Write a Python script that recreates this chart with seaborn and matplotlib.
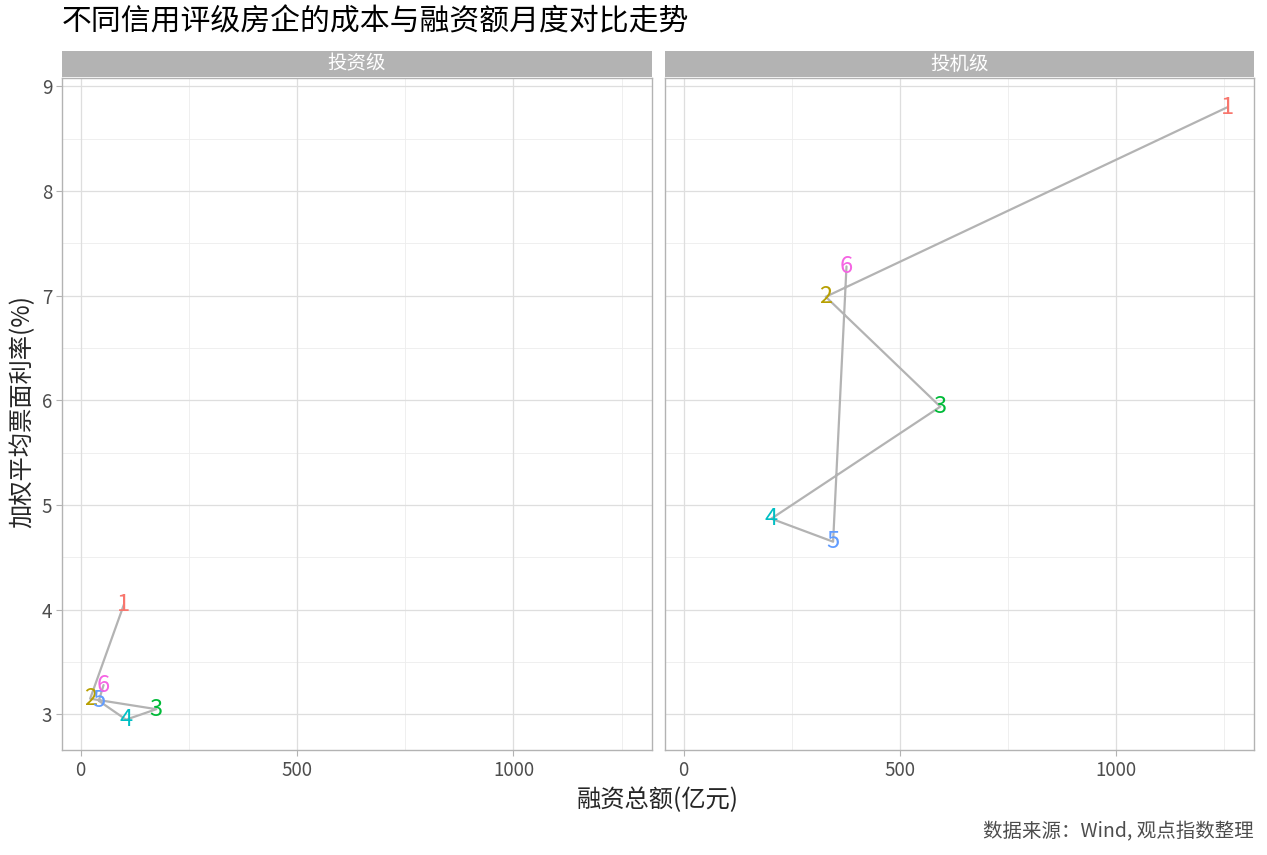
import numpy as np
import pandas as pd
import matplotlib
matplotlib.use("Agg")
import matplotlib.pyplot as plt
import seaborn as sns

sns.set_theme(style="white")
plt.rcParams['font.family'] = ['Noto Sans CJK SC', 'DejaVu Sans']

# Data
months = [1, 2, 3, 4, 5, 6]
grades = ["投资级", "投机级"]
amount_invest = [100, 22, 175, 105, 42, 53]
rate_invest = [4.05, 3.15, 3.05, 2.95, 3.13, 3.28]
amount_spec = [1258, 329, 594, 203, 346, 377]
rate_spec = [8.80, 6.99, 5.94, 4.87, 4.65, 7.28]

df = pd.DataFrame({
    "month": months * 2,
    "grade": [grades[0]] * 6 + [grades[1]] * 6,
    "amount": amount_invest + amount_spec,
    "rate": rate_invest + rate_spec,
})

# ggplot default hue colours for 6 levels
palette = ["#F8766D", "#B79F00", "#00BA38", "#00BFC4", "#619CFF", "#F564E3"]

W, H = 1267, 855
fig = plt.figure(figsize=(W / 100, H / 100), dpi=100)

def fx(px):
    return px / W

def fy(py):
    return 1 - py / H

panel_top, panel_bot = 78, 750
panels = [(62, 652), (665, 1254)]

xlim = (-43, 1320)
ylim = (2.66, 9.08)

axes = []
for i, (x0, x1) in enumerate(panels):
    ax = fig.add_axes([fx(x0), fy(panel_bot), fx(x1 - x0), (panel_bot - panel_top) / H])
    sub = df[df["grade"] == grades[i]].sort_values("month")
    ax.set_xlim(*xlim)
    ax.set_ylim(*ylim)
    # grid
    for v in [250, 750, 1250]:
        ax.axvline(v, color="#EDEDED", lw=0.6, zorder=0)
    for v in [3.5, 4.5, 5.5, 6.5, 7.5, 8.5]:
        ax.axhline(v, color="#EDEDED", lw=0.6, zorder=0)
    for v in [0, 500, 1000]:
        ax.axvline(v, color="#DEDEDE", lw=0.9, zorder=0)
    for v in range(3, 10):
        ax.axhline(v, color="#DEDEDE", lw=0.9, zorder=0)
    sns.lineplot(data=sub, x="amount", y="rate", sort=False, estimator=None,
                 color="#B3B3B3", lw=1.6, ax=ax, zorder=2)
    for _, r in sub.iterrows():
        ax.text(r["amount"], r["rate"], str(int(r["month"])),
                color=palette[int(r["month"]) - 1], fontsize=17,
                ha="center", va="center", zorder=3)
    ax.set_xticks([0, 500, 1000])
    ax.set_yticks(range(3, 10))
    ax.tick_params(axis="both", length=4, color="#B3B3B3", width=0.8,
                   labelsize=13.5, labelcolor="#4D4D4D", pad=3, bottom=True, left=True)
    if i == 1:
        ax.tick_params(axis="y", left=False, labelleft=False)
    ax.set_xlabel("")
    ax.set_ylabel("")
    for s in ax.spines.values():
        s.set_color("#B3B3B3")
        s.set_linewidth(1.0)
    axes.append(ax)

    # facet strip
    sax = fig.add_axes([fx(x0), fy(panel_top - 1), fx(x1 - x0), 26 / H])
    sax.set_facecolor("#B3B3B3")
    sax.set_xticks([])
    sax.set_yticks([])
    for s in sax.spines.values():
        s.set_visible(False)
    sax.text(0.5, 0.5, grades[i], color="white", fontsize=14,
             ha="center", va="center", transform=sax.transAxes)

fig.text(fx(62), fy(22), "不同信用评级房企的成本与融资额月度对比走势",
         fontsize=21.5, ha="left", va="center", color="black")
fig.text(fx(658), fy(800), "融资总额(亿元)", fontsize=17.5, ha="center", va="center")
fig.text(fx(22), fy(412), "加权平均票面利率(%)", fontsize=17.5, ha="center",
         va="center", rotation=90)
fig.text(fx(1254), fy(832), "数据来源：Wind, 观点指数整理", fontsize=14,
         ha="right", va="center", color="#4D4D4D")

fig.savefig("out.png", dpi=100, facecolor="white")
